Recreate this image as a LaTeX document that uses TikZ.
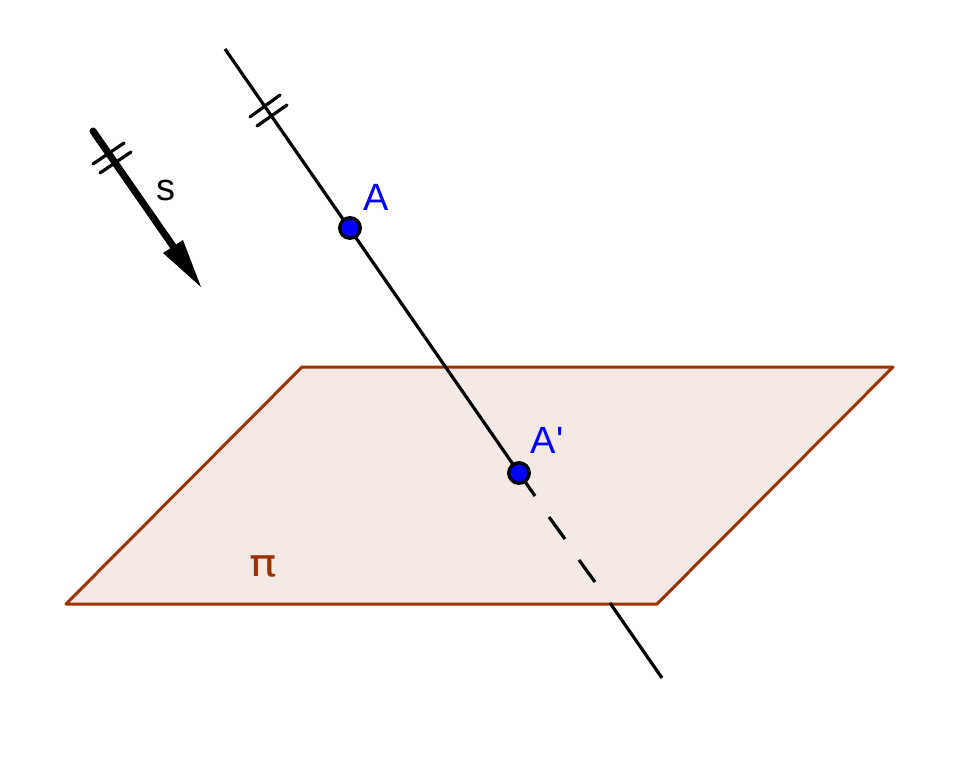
\documentclass[tikz,border=0pt]{standalone}
\usepackage{fontspec}
\setmainfont{Liberation Sans}
\newfontfamily\pifont{DejaVu Sans}
\newfontfamily\labelfont{Liberation Sans}
\definecolor{planeedge}{HTML}{993300}
\definecolor{planefill}{HTML}{F5E9E5}
\definecolor{ptblue}{HTML}{0000FF}
\tikzset{
  plane/.style={draw=planeedge,fill=planefill,line width=3pt,line join=round},
  axisline/.style={draw=black,line width=3.2pt},
  tickmark/.style={draw=black,line width=3.2pt,line cap=round},
  vecline/.style={draw=black,line width=7pt,line cap=round},
  vechead/.style={fill=black,draw=none},
  ptmark/.style={circle,draw=black,fill=ptblue,line width=3.4pt,minimum size=20.5pt,inner sep=0pt},
  ptlabel/.style={text=ptblue,font=\labelfont\fontsize{38}{38}\selectfont,inner sep=0pt},
  veclabel/.style={text=black,font=\labelfont\fontsize{38}{38}\selectfont,inner sep=0pt},
  planelabel/.style={text=planeedge,font=\pifont\fontsize{38}{38}\selectfont,inner sep=0pt,xscale=1.2}
}
\begin{document}
\begin{tikzpicture}[x=1pt,y=-1pt]
\useasboundingbox (0,0) rectangle (959,768);
% plane
\coordinate (p1) at (302,367);
\coordinate (p2) at (893,367);
\coordinate (p3) at (657,604);
\coordinate (p4) at (66,604);
\path[plane] (p1) -- (p2) -- (p3) -- (p4) -- cycle;
\node[planelabel] (pi) at (263,566) {π};
% line through A and A'
\coordinate (top) at (225,49);
\coordinate (d0) at (535,496);
\coordinate (d1a) at (549,517);
\coordinate (d1b) at (565,539);
\coordinate (d2a) at (579,560);
\coordinate (d2b) at (595,582);
\coordinate (low) at (610,603);
\coordinate (bottom) at (662,678);
\draw[axisline] (top) -- (d0);
\draw[axisline] (d1a) -- (d1b);
\draw[axisline] (d2a) -- (d2b);
\draw[axisline] (low) -- (bottom);
% ticks on line
\coordinate (t1a) at (250,117); \coordinate (t1b) at (280,95);
\coordinate (t2a) at (257,126); \coordinate (t2b) at (287,105);
\draw[tickmark] (t1a) -- (t1b);
\draw[tickmark] (t2a) -- (t2b);
% vector s
\coordinate (s0) at (93,131);
\coordinate (s1) at (175,249);
\coordinate (hl) at (163,253);
\coordinate (hr) at (183,240);
\coordinate (tip) at (201,287);
\draw[vecline] (s0) -- (s1);
\path[vechead] (tip) -- (hl) -- (hr) -- cycle;
\coordinate (u1a) at (93,164); \coordinate (u1b) at (124,143);
\coordinate (u2a) at (100,173); \coordinate (u2b) at (131,152);
\draw[tickmark] (u1a) -- (u1b);
\draw[tickmark] (u2a) -- (u2b);
\node[veclabel] (s) at (166,190) {s};
% points
\node[ptmark] (A) at (350,228) {};
\node[ptmark] (Ap) at (519,473) {};
\node[ptlabel] (LA) at (376,197) {A};
\node[ptlabel] (LAp) at (547,440) {A'};
\end{tikzpicture}
\end{document}
